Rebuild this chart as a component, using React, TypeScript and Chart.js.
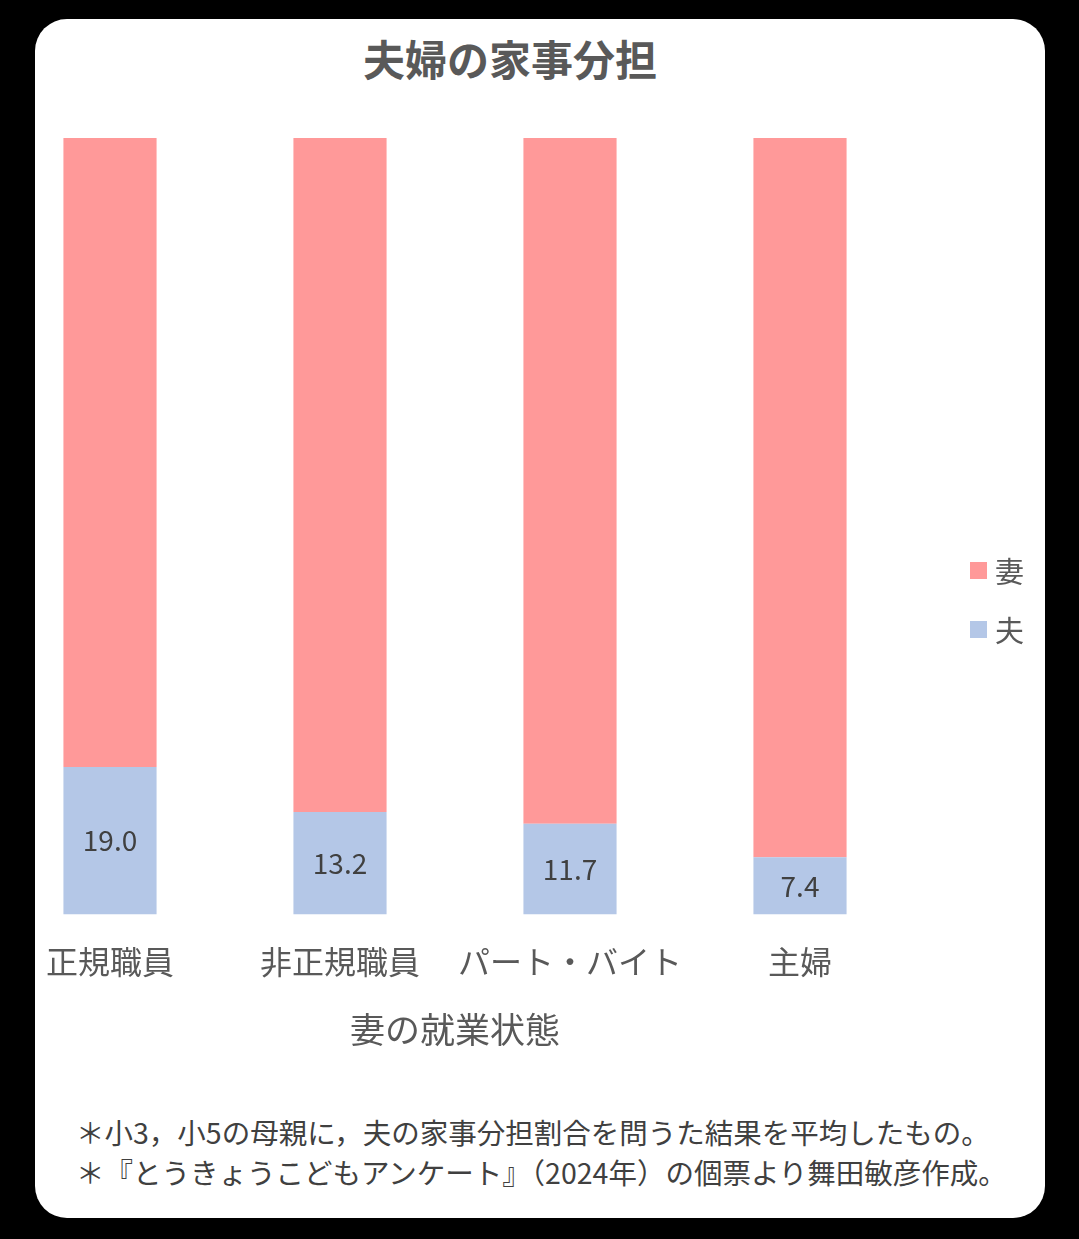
import React, { useEffect, useRef } from "react";
import { Chart, registerables } from "chart.js";

Chart.register(...registerables);

const categories = ["正規職員", "非正規職員", "パート・バイト", "主婦"];
const husbandShare = [19.0, 13.2, 11.7, 7.4];
const wifeShare = [81.0, 86.8, 88.3, 92.6];
const seriesNames = ["夫", "妻"];
const chartTitle = "夫婦の家事分担";
const xAxisTitle = "妻の就業状態";
const notes = [
  "＊小3，小5の母親に，夫の家事分担割合を問うた結果を平均したもの。",
  "＊『とうきょうこどもアンケート』（2024年）の個票より舞田敏彦作成。",
];

const WIFE_COLOR = "#FF9999";
const HUSBAND_COLOR = "#B4C7E7";
const FONT = "'Noto Sans CJK JP', 'Noto Sans', sans-serif";

const valueLabelPlugin = {
  id: "valueLabels",
  afterDatasetsDraw(chart: any) {
    const ctx = chart.ctx;
    const meta = chart.getDatasetMeta(0);
    ctx.save();
    ctx.fillStyle = "#404040";
    ctx.font = `28px ${FONT}`;
    ctx.textAlign = "center";
    ctx.textBaseline = "middle";
    meta.data.forEach((bar: any, i: number) => {
      const { x, y, base } = bar.getProps(["x", "y", "base"], true);
      ctx.fillText(husbandShare[i].toFixed(1), x, (y + base) / 2);
    });
    ctx.restore();
  },
};

function ChartCanvas() {
  const ref = useRef<HTMLCanvasElement | null>(null);
  useEffect(() => {
    if (!ref.current) return;
    const chart = new Chart(ref.current, {
      type: "bar",
      data: {
        labels: categories,
        datasets: [
          {
            label: seriesNames[0],
            data: husbandShare,
            backgroundColor: HUSBAND_COLOR,
            categoryPercentage: 1,
            barPercentage: 0.405,
          },
          {
            label: seriesNames[1],
            data: wifeShare,
            backgroundColor: WIFE_COLOR,
            categoryPercentage: 1,
            barPercentage: 0.405,
          },
        ],
      },
      options: {
        animation: false,
        responsive: false,
        maintainAspectRatio: false,
        devicePixelRatio: 1,
        layout: { padding: { left: 5, right: 115, top: 120, bottom: 0 } },
        plugins: {
          legend: { display: false },
          tooltip: { enabled: false },
          title: { display: false },
        },
        scales: {
          x: {
            stacked: true,
            grid: { display: false, drawTicks: false },
            border: { display: false },
            ticks: {
              color: "#595959",
              padding: 28,
              font: { family: FONT, size: 32, lineHeight: 1.2 },
              maxRotation: 0,
              autoSkip: false,
            },
            title: {
              display: true,
              text: xAxisTitle,
              color: "#595959",
              font: { family: FONT, size: 35, lineHeight: 1.2 },
              padding: { top: 0, bottom: 7 },
            },
          },
          y: {
            stacked: true,
            display: false,
            min: 0,
            max: 100,
          },
        },
      },
      plugins: [valueLabelPlugin],
    });
    return () => chart.destroy();
  }, []);
  return (
    <canvas
      ref={ref}
      width={1040}
      height={1040}
      style={{ position: "absolute", left: -10, top: 18, width: 1040, height: 1040 }}
    />
  );
}

export default function App() {
  const legendItems = [
    { name: seriesNames[1], color: WIFE_COLOR, top: 552 },
    { name: seriesNames[0], color: HUSBAND_COLOR, top: 611 },
  ];
  return (
    <div
      style={{
        position: "fixed",
        left: 0,
        top: 0,
        width: 1079,
        height: 1239,
        background: "#000",
        overflow: "hidden",
        fontFamily: FONT,
      }}
    >
      <div
        style={{
          position: "absolute",
          left: 35,
          top: 19,
          width: 1010,
          height: 1199,
          background: "#fff",
          borderRadius: 32,
        }}
      />
      <div
        style={{
          position: "absolute",
          left: 0,
          top: 33,
          width: 1020,
          textAlign: "center",
          fontSize: 42,
          lineHeight: "50px",
          fontWeight: "bold",
          color: "#595959",
          whiteSpace: "nowrap",
        }}
      >
        {chartTitle}
      </div>
      <ChartCanvas />
      {legendItems.map((it) => (
        <div
          key={it.name}
          style={{
            position: "absolute",
            left: 970,
            top: it.top,
            height: 36,
            display: "flex",
            alignItems: "center",
            color: "#595959",
            fontSize: 29,
          }}
        >
          <span
            style={{
              display: "inline-block",
              width: 17,
              height: 17,
              background: it.color,
              marginRight: 8,
            }}
          />
          <span>{it.name}</span>
        </div>
      ))}
      {notes.map((n, i) => (
        <div
          key={i}
          style={{
            position: "absolute",
            left: 76,
            top: 1112 + i * 40,
            fontSize: 28.5,
            lineHeight: "40px",
            color: "#404040",
            whiteSpace: "nowrap",
          }}
        >
          {n}
        </div>
      ))}
    </div>
  );
}
